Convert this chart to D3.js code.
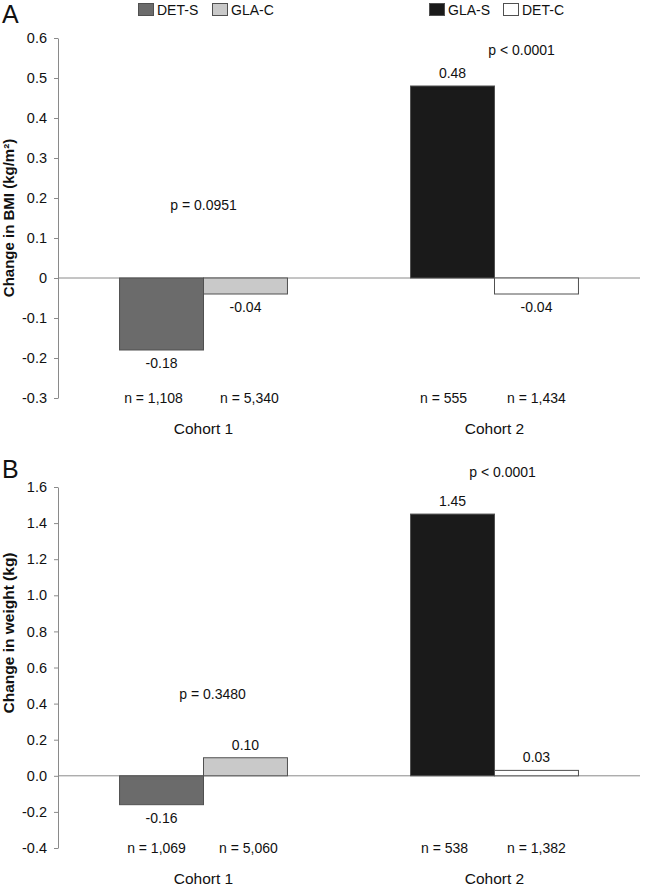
<!DOCTYPE html>
<html>
<head>
<meta charset="utf-8">
<script src="https://cdn.jsdelivr.net/npm/d3@7"></script>
<style>
  html, body { margin: 0; padding: 0; background: #fff; }
  svg { display: block; font-family: "Liberation Sans", Arial, sans-serif; }
</style>
</head>
<body>
<svg id="chart" width="647" height="887"></svg>
<script>
// ---------- data ----------
const cohorts = ["Cohort 1", "Cohort 2"];
const seriesNames = [["DET-S", "GLA-C"], ["GLA-S", "DET-C"]];
const seriesColors = { "DET-S": "#6b6b6b", "GLA-C": "#c9c9c9", "GLA-S": "#1a1a1a", "DET-C": "#ffffff" };

const bmiValues = [[-0.18, -0.04], [0.48, -0.04]];
const bmiLabels = [["-0.18", "-0.04"], ["0.48", "-0.04"]];
const bmiN = [["n = 1,108", "n = 5,340"], ["n = 555", "n = 1,434"]];
const bmiP = ["p = 0.0951", "p < 0.0001"];
const bmiTicks = [0.6, 0.5, 0.4, 0.3, 0.2, 0.1, 0, -0.1, -0.2, -0.3];
const bmiTickLabels = ["0.6", "0.5", "0.4", "0.3", "0.2", "0.1", "0", "-0.1", "-0.2", "-0.3"];

const wtValues = [[-0.16, 0.10], [1.45, 0.03]];
const wtLabels = [["-0.16", "0.10"], ["1.45", "0.03"]];
const wtN = [["n = 1,069", "n = 5,060"], ["n = 538", "n = 1,382"]];
const wtP = ["p = 0.3480", "p < 0.0001"];
const wtTicks = [1.6, 1.4, 1.2, 1.0, 0.8, 0.6, 0.4, 0.2, 0.0, -0.2, -0.4];
const wtTickLabels = ["1.6", "1.4", "1.2", "1.0", "0.8", "0.6", "0.4", "0.2", "0.0", "-0.2", "-0.4"];

// ---------- layout ----------
const svg = d3.select("#chart");
const FS = 14;
const textColor = "#111";

function panel(cfg) {
  const g = svg.append("g");
  const x0 = d3.scaleBand().domain(cohorts).range([58, 640]).paddingInner(0).paddingOuter(0);
  const x1 = d3.scaleBand().domain([0, 1]).range([0, x0.bandwidth()]).paddingInner(0).paddingOuter(0.733);
  const y = d3.scaleLinear().domain([cfg.ticks[cfg.ticks.length - 1], cfg.ticks[0]]).range(cfg.yRange);

  // panel letter
  g.append("text").attr("x", 2).attr("y", cfg.letterY).attr("font-size", 25).attr("fill", textColor).text(cfg.letter);

  // y axis
  const axis = d3.axisLeft(y).tickValues(cfg.ticks)
    .tickFormat((d, i) => cfg.tickLabels[i]).tickSize(4).tickSizeOuter(0).tickPadding(7);
  const ax = g.append("g").attr("transform", "translate(58,0)").call(axis);
  ax.select(".domain").attr("stroke", "#8a8a8a");
  ax.selectAll(".tick line").attr("stroke", "#8a8a8a");
  ax.selectAll(".tick text").attr("font-size", 14.5).attr("fill", textColor).attr("font-family", "Liberation Sans, Arial, sans-serif");

  // y title
  g.append("text")
    .attr("transform", `translate(14,${cfg.titleY}) rotate(-90)`)
    .attr("text-anchor", "middle").attr("font-size", cfg.titleFS).attr("font-weight", "bold").attr("fill", textColor)
    .text(cfg.title);

  // zero line
  g.append("line").attr("x1", 58).attr("x2", 640).attr("y1", y(0)).attr("y2", y(0)).attr("stroke", "#8a8a8a");

  cohorts.forEach((c, ci) => {
    cfg.values[ci].forEach((v, si) => {
      const name = seriesNames[ci][si];
      const bx = x0(c) + x1(si);
      const bw = x1.bandwidth();
      g.append("rect")
        .attr("x", bx).attr("width", bw)
        .attr("y", Math.min(y(v), y(0))).attr("height", Math.abs(y(v) - y(0)))
        .attr("fill", seriesColors[name]).attr("stroke", "#505050").attr("stroke-width", 1);
      // value label
      const ly = v >= 0 ? y(v) - 13 : y(v) + 13;
      g.append("text").attr("x", bx + bw / 2).attr("y", ly).attr("dy", "0.35em")
        .attr("text-anchor", "middle").attr("font-size", FS).attr("fill", textColor).text(cfg.labels[ci][si]);
      // n label
      g.append("text").attr("x", bx + bw / 2 + cfg.nOffset[ci][si]).attr("y", y(cfg.ticks[cfg.ticks.length - 1])).attr("dy", "0.35em")
        .attr("text-anchor", "middle").attr("font-size", FS).attr("fill", textColor).text(cfg.n[ci][si]);
    });
    // cohort label
    g.append("text").attr("x", x0(c) + x0.bandwidth() / 2).attr("y", y(cfg.ticks[cfg.ticks.length - 1]) + 31).attr("dy", "0.35em")
      .attr("text-anchor", "middle").attr("font-size", 15.5).attr("fill", textColor).text(c);
    // p label
    g.append("text").attr("x", x0(c) + x0.bandwidth() / 2 + cfg.pDx[ci]).attr("y", y(cfg.pY[ci])).attr("dy", "0.35em")
      .attr("text-anchor", "middle").attr("font-size", FS).attr("fill", textColor).text(cfg.p[ci]);
  });
}

// legend
const legendItems = [
  { name: "DET-S", x: 138 }, { name: "GLA-C", x: 212 },
  { name: "GLA-S", x: 429 }, { name: "DET-C", x: 503 }
];
legendItems.forEach(it => {
  svg.append("rect").attr("x", it.x + 0.5).attr("y", 3.5).attr("width", 15).attr("height", 12)
    .attr("fill", seriesColors[it.name]).attr("stroke", "#505050");
  svg.append("text").attr("x", it.x + 19).attr("y", 15).attr("font-size", FS).attr("fill", textColor).text(it.name);
});

panel({
  letter: "A", letterY: 23,
  title: "Change in BMI (kg/m\u00B2)", titleY: 218, titleFS: 15,
  ticks: bmiTicks, tickLabels: bmiTickLabels, yRange: [398, 38],
  values: bmiValues, labels: bmiLabels, n: bmiN, p: bmiP,
  pY: [0.183, 0.57], pDx: [0, 27],
  nOffset: [[-8, 4], [-9, 0]]
});

panel({
  letter: "B", letterY: 478,
  title: "Change in weight (kg)", titleY: 633, titleFS: 15.5,
  ticks: wtTicks, tickLabels: wtTickLabels, yRange: [848, 487],
  values: wtValues, labels: wtLabels, n: wtN, p: wtP,
  pY: [0.45, 1.68], pDx: [9, 8],
  nOffset: [[-5, 3], [-8, 0]]
});
</script>
</body>
</html>
